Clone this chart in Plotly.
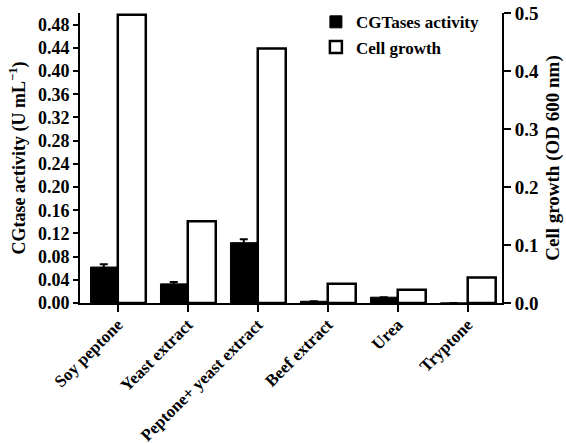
import plotly.graph_objects as go

categories = ["Soy peptone", "Yeast extract", "Peptone+ yeast extract", "Beef extract", "Urea", "Tryptone"]
cgtase_activity = [0.062, 0.033, 0.104, 0.003, 0.010, 0.0]
cgtase_error = [0.005, 0.003, 0.006, 0.0, 0.0, 0.0]
cell_growth = [0.497, 0.141, 0.439, 0.033, 0.023, 0.044]
left_ticks = [round(0.04 * i, 2) for i in range(13)]
left_ticklabels = [f"{v:.2f}" for v in left_ticks]
right_ticks = [0.0, 0.1, 0.2, 0.3, 0.4, 0.5]
right_ticklabels = [f"{v:.1f}" for v in right_ticks]

serif = "Liberation Serif, Times New Roman, serif"
bold = "<b>{}</b>"

fig = go.Figure()
fig.add_trace(go.Bar(
    x=list(range(len(categories))), y=cgtase_activity, name=bold.format("CGTases activity"),
    marker=dict(color="black", line=dict(color="black", width=1)),
    width=0.38, offset=-0.39,
    error_y=dict(type="data", array=cgtase_error, color="black", thickness=2, width=4, visible=True),
    yaxis="y",
))
fig.add_trace(go.Bar(
    x=list(range(len(categories))), y=cell_growth, name=bold.format("Cell growth"),
    marker=dict(color="white", line=dict(color="black", width=2.5)),
    width=0.40, offset=0.0,
    yaxis="y2",
))

fig.update_layout(
    width=566, height=444,
    margin=dict(l=80, r=64, t=13, b=141, autoexpand=False),
    paper_bgcolor="white", plot_bgcolor="white",
    showlegend=True,
    legend=dict(x=0.559, y=1.03, xanchor="left", yanchor="top",
                font=dict(family=serif, size=17, color="black"),
                bgcolor="rgba(0,0,0,0)", itemwidth=30, tracegroupgap=0),
    xaxis=dict(
        range=[-0.54, 5.49], tickmode="array",
        tickvals=list(range(len(categories))),
        ticktext=[bold.format(c) for c in categories],
        tickangle=-45, ticks="outside", ticklen=7, tickwidth=2, tickcolor="black",
        showline=True, linecolor="black", linewidth=2, automargin=False,
        showgrid=False, zeroline=False, layer="above traces",
        tickfont=dict(family=serif, size=17, color="black"),
        ticklabelstandoff=-4,
    ),
    yaxis=dict(
        range=[0, 0.5], tickmode="array", tickvals=left_ticks,
        ticktext=[bold.format(t) for t in left_ticklabels],
        ticks="outside", ticklen=5, tickwidth=2, tickcolor="black",
        showline=True, linecolor="black", linewidth=2, automargin=False,
        showgrid=False, zeroline=False, layer="above traces",
        tickfont=dict(family=serif, size=18, color="black"),
        title=dict(text="<b>CGtase activity (U mL<sup>\u22121</sup>)</b>",
                   font=dict(family=serif, size=18, color="black"), standoff=8),
    ),
    yaxis2=dict(
        range=[0, 0.5], overlaying="y", side="right", tickmode="array",
        tickvals=right_ticks, ticktext=[bold.format(t) for t in right_ticklabels],
        ticks="outside", ticklen=7, tickwidth=2, tickcolor="black",
        showline=True, linecolor="black", linewidth=2, automargin=False,
        showgrid=False, zeroline=False, layer="above traces",
        tickfont=dict(family=serif, size=19, color="black"),
        title=dict(text="<b>Cell growth (OD 600 nm)</b>",
                   font=dict(family=serif, size=19, color="black"), standoff=8),
    ),
    bargap=0.2,
)

fig.write_html("out.html")
